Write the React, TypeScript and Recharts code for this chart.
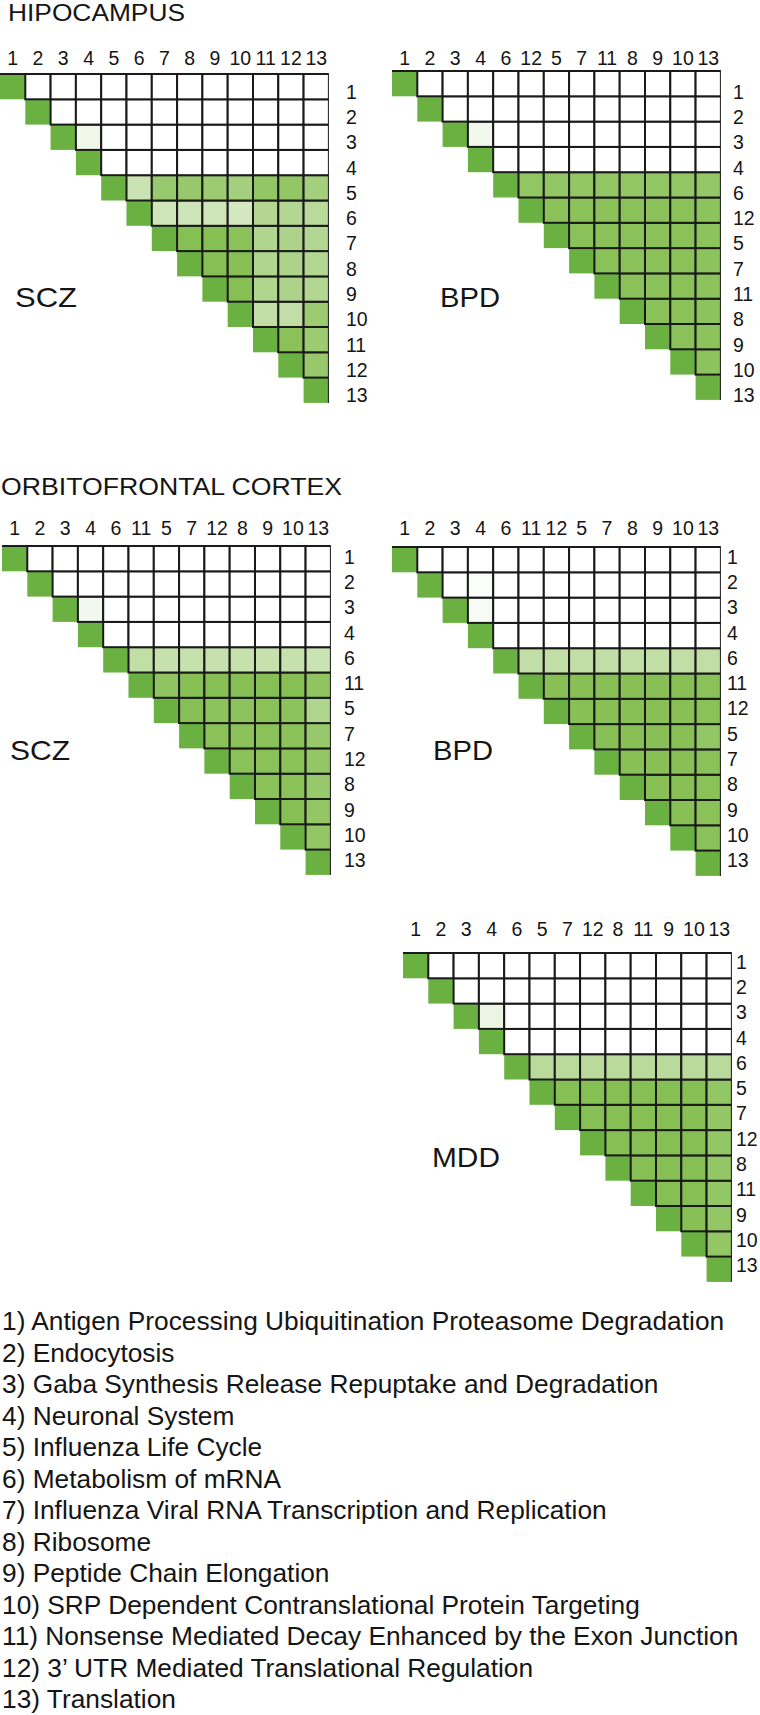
import React from 'react';
import { BarChart, Bar, XAxis, YAxis } from 'recharts';

const FONT = '"Liberation Sans", Arial, Helvetica, sans-serif';

// ---- category orders (pathway numbers) per panel ----
const hippoSczOrder = [1, 2, 3, 4, 5, 6, 7, 8, 9, 10, 11, 12, 13];
const hippoBpdOrder = [1, 2, 3, 4, 6, 12, 5, 7, 11, 8, 9, 10, 13];
const ofcSczOrder = [1, 2, 3, 4, 6, 11, 5, 7, 12, 8, 9, 10, 13];
const ofcBpdOrder = [1, 2, 3, 4, 6, 11, 12, 5, 7, 8, 9, 10, 13];
const ofcMddOrder = [1, 2, 3, 4, 6, 5, 7, 12, 8, 11, 9, 10, 13];

// ---- overlap strength (0 = none, 1 = full), upper triangle, row by row ----
const hippoSczValues = [
  [0, 0, 0, 0, 0, 0, 0, 0, 0, 0, 0, 0],
  [0, 0, 0, 0, 0, 0, 0, 0, 0, 0, 0],
  [0.12, 0, 0, 0, 0, 0, 0, 0, 0, 0],
  [0, 0, 0, 0, 0, 0, 0, 0, 0],
  [0.42, 0.8, 0.82, 0.78, 0.72, 0.86, 0.86, 0.72],
  [0.38, 0.4, 0.38, 0.35, 0.6, 0.6, 0.55],
  [0.95, 0.95, 0.92, 0.62, 0.65, 0.6],
  [0.95, 0.95, 0.62, 0.65, 0.6],
  [0.95, 0.62, 0.65, 0.6],
  [0.5, 0.5, 0.78],
  [0.92, 0.78],
  [0.82],
];
const hippoBpdValues = [
  [0, 0, 0, 0, 0, 0, 0, 0, 0, 0, 0, 0],
  [0, 0, 0, 0, 0, 0, 0, 0, 0, 0, 0],
  [0.1, 0, 0, 0, 0, 0, 0, 0, 0, 0],
  [0, 0, 0, 0, 0, 0, 0, 0, 0],
  [0.86, 0.86, 0.86, 0.86, 0.86, 0.86, 0.86, 0.84],
  [0.92, 0.92, 0.92, 0.92, 0.92, 0.92, 0.9],
  [0.92, 0.92, 0.92, 0.92, 0.92, 0.9],
  [0.92, 0.92, 0.92, 0.92, 0.9],
  [0.92, 0.92, 0.92, 0.9],
  [0.92, 0.92, 0.9],
  [0.92, 0.9],
  [0.9],
];
const ofcSczValues = [
  [0, 0, 0, 0, 0, 0, 0, 0, 0, 0, 0, 0],
  [0, 0, 0, 0, 0, 0, 0, 0, 0, 0, 0],
  [0.1, 0, 0, 0, 0, 0, 0, 0, 0, 0],
  [0, 0, 0, 0, 0, 0, 0, 0, 0],
  [0.5, 0.45, 0.45, 0.45, 0.45, 0.45, 0.45, 0.42],
  [0.88, 0.95, 0.95, 0.95, 0.95, 0.95, 0.88],
  [0.95, 0.9, 0.9, 0.92, 0.9, 0.62],
  [0.92, 0.92, 0.92, 0.92, 0.82],
  [0.92, 0.92, 0.92, 0.85],
  [0.92, 0.92, 0.82],
  [0.95, 0.85],
  [0.85],
];
const ofcBpdValues = [
  [0, 0, 0, 0, 0, 0, 0, 0, 0, 0, 0, 0],
  [0, 0.03, 0, 0, 0, 0, 0, 0, 0, 0, 0],
  [0.06, 0, 0, 0, 0, 0, 0, 0, 0, 0],
  [0, 0, 0, 0, 0, 0, 0, 0, 0],
  [0.5, 0.5, 0.5, 0.5, 0.5, 0.5, 0.5, 0.5],
  [0.94, 0.94, 0.94, 0.94, 0.94, 0.94, 0.92],
  [0.94, 0.94, 0.94, 0.94, 0.94, 0.92],
  [0.94, 0.94, 0.94, 0.94, 0.85],
  [0.94, 0.94, 0.94, 0.92],
  [0.94, 0.94, 0.92],
  [0.94, 0.92],
  [0.92],
];
const ofcMddValues = [
  [0, 0, 0, 0, 0, 0, 0, 0, 0, 0, 0, 0],
  [0, 0, 0, 0, 0, 0, 0, 0, 0, 0, 0],
  [0.15, 0, 0, 0, 0, 0, 0, 0, 0, 0],
  [0, 0, 0, 0, 0, 0, 0, 0, 0],
  [0.55, 0.55, 0.55, 0.55, 0.55, 0.55, 0.55, 0.55],
  [0.95, 0.95, 0.95, 0.95, 0.95, 0.95, 0.85],
  [0.95, 0.95, 0.95, 0.95, 0.95, 0.85],
  [0.95, 0.95, 0.95, 0.95, 0.85],
  [0.95, 0.95, 0.95, 0.85],
  [0.95, 0.95, 0.85],
  [0.95, 0.85],
  [0.85],
];

const pathwayNames = [
  'Antigen Processing Ubiquitination Proteasome Degradation',
  'Endocytosis',
  'Gaba Synthesis Release Repuptake and Degradation',
  'Neuronal System',
  'Influenza Life Cycle',
  'Metabolism of mRNA',
  'Influenza Viral RNA Transcription and Replication',
  'Ribosome',
  'Peptide Chain Elongation',
  'SRP Dependent Contranslational Protein Targeting',
  'Nonsense Mediated Decay Enhanced by the Exon Junction',
  '3\u2019 UTR Mediated Translational Regulation',
  'Translation',
];

// ---- styling ----
const N = 13;
const CELL = 25.3;
const M_LEFT = 4;
const M_TOP = 16;
const M_RIGHT = 2;
const M_BOTTOM = 16;
const X_AXIS_H = 28;
const Y_AXIS_W = 44;
const PLOT_TOP = M_TOP + X_AXIS_H;
const CHART_W = M_LEFT + N * CELL + Y_AXIS_W + M_RIGHT;
const CHART_H = PLOT_TOP + N * CELL + M_BOTTOM;
const LINE = '#1a1a1a';
const LINE_W = 2;
const DIAG = [106, 177, 66];
const GREEN = [128, 188, 74];

const mix = (rgb: number[], v: number) => {
  const c = rgb.map((k) => Math.round(255 + (k - 255) * v));
  return `rgb(${c[0]},${c[1]},${c[2]})`;
};

const makeShape = (c: number, values: number[][]) => (props: any) => {
  const { x, y, width, height, payload } = props;
  const r = payload.r;
  if (c < r) return <g />;
  if (c === r) {
    return (
      <g>
        <rect x={x} y={y} width={width} height={height} fill={mix(DIAG, 1)} />
        {r === 0 && <line x1={x} x2={x + width} y1={y} y2={y} stroke={LINE} strokeWidth={LINE_W} />}
        {c === N - 1 && (
          <line x1={x + width} x2={x + width} y1={y - 1} y2={y + height} stroke={LINE} strokeWidth={LINE_W} />
        )}
      </g>
    );
  }
  const v = values[r][c - r - 1];
  return (
    <rect
      x={x}
      y={y}
      width={width}
      height={height}
      fill={v > 0 ? mix(GREEN, v) : '#ffffff'}
      stroke={LINE}
      strokeWidth={LINE_W}
    />
  );
};

type PanelProps = {
  order: number[];
  values: number[][];
  left: number;
  top: number;
  colGap: number;
  rowGapX: number;
  rowDy: number;
};

function Panel({ order, values, left, top, colGap, rowGapX, rowDy }: PanelProps) {
  const rows = order
    .map((label, r) => {
      const o: any = { label: String(label), r };
      for (let c = 0; c < N; c++) o['c' + c] = 1;
      return o;
    })
    .reverse();
  const ticks = order.map((_, i) => i + 0.5);
  const plotRight = M_LEFT + N * CELL;
  return (
    <div style={{ position: 'absolute', left: left - M_LEFT, top: top - PLOT_TOP }}>
      <BarChart
        width={CHART_W}
        height={CHART_H}
        data={rows}
        layout="vertical"
        margin={{ top: M_TOP, right: M_RIGHT, bottom: M_BOTTOM, left: M_LEFT }}
        barCategoryGap={0}
        barGap={0}
      >
        <XAxis
          type="number"
          orientation="top"
          domain={[0, N]}
          ticks={ticks}
          interval={0}
          allowDataOverflow
          axisLine={false}
          tickLine={false}
          height={X_AXIS_H}
          tick={(p: any) => (
            <text
              x={p.x}
              y={PLOT_TOP - colGap}
              textAnchor="middle"
              fontSize={19.5}
              fontFamily={FONT}
              fill="#151515"
            >
              {order[Math.floor(p.payload.value)]}
            </text>
          )}
        />
        <YAxis
          type="category"
          dataKey="label"
          orientation="right"
          reversed
          width={Y_AXIS_W}
          interval={0}
          axisLine={false}
          tickLine={false}
          tick={(p: any) => (
            <text
              x={plotRight + rowGapX}
              y={p.y + 7 + rowDy}
              textAnchor="start"
              fontSize={19.5}
              fontFamily={FONT}
              fill="#151515"
            >
              {p.payload.value}
            </text>
          )}
        />
        {order.map((_, c) => (
          <Bar
            key={c}
            dataKey={'c' + c}
            stackId="m"
            barSize={CELL - 0.001}
            isAnimationActive={false}
            shape={makeShape(c, values)}
          />
        ))}
      </BarChart>
    </div>
  );
}

export default function App() {
  return (
    <div
      style={{
        position: 'absolute',
        left: 0,
        top: 0,
        width: 760,
        height: 1715,
        background: '#ffffff',
        overflow: 'hidden',
        fontFamily: FONT,
      }}
    >
      <svg width={760} height={1715} style={{ position: 'absolute', left: 0, top: 0 }}>
        <text x={8} y={21} fontSize={24} fontFamily={FONT} fill="#151515" textLength={177} lengthAdjust="spacingAndGlyphs">
          HIPOCAMPUS
        </text>
        <text x={1} y={495} fontSize={24} fontFamily={FONT} fill="#151515" textLength={341} lengthAdjust="spacingAndGlyphs">
          ORBITOFRONTAL CORTEX
        </text>
        <text x={15} y={307} fontSize={28} fontFamily={FONT} fill="#151515" textLength={62} lengthAdjust="spacingAndGlyphs">SCZ</text>
        <text x={440} y={307} fontSize={28} fontFamily={FONT} fill="#151515" textLength={60} lengthAdjust="spacingAndGlyphs">BPD</text>
        <text x={10} y={760} fontSize={28} fontFamily={FONT} fill="#151515" textLength={60} lengthAdjust="spacingAndGlyphs">SCZ</text>
        <text x={433} y={760} fontSize={28} fontFamily={FONT} fill="#151515" textLength={60} lengthAdjust="spacingAndGlyphs">BPD</text>
        <text x={432} y={1167} fontSize={28} fontFamily={FONT} fill="#151515" textLength={68} lengthAdjust="spacingAndGlyphs">MDD</text>
        {pathwayNames.map((name, i) => (
          <text key={i} x={2} y={1330 + 31.5 * i} fontSize={26.3} fontFamily={FONT} fill="#151515">
            {`${i + 1}) ${name}`}
          </text>
        ))}
      </svg>
      <Panel order={hippoSczOrder} values={hippoSczValues} left={0} top={74} colGap={9} rowGapX={17} rowDy={5} />
      <Panel order={hippoBpdOrder} values={hippoBpdValues} left={392} top={71} colGap={6} rowGapX={12} rowDy={8} />
      <Panel order={ofcSczOrder} values={ofcSczValues} left={2} top={546} colGap={11} rowGapX={13} rowDy={-2} />
      <Panel order={ofcBpdOrder} values={ofcBpdValues} left={392} top={547} colGap={12} rowGapX={6} rowDy={-3} />
      <Panel order={ofcMddOrder} values={ofcMddValues} left={403} top={953} colGap={17} rowGapX={4} rowDy={-4} />
    </div>
  );
}
